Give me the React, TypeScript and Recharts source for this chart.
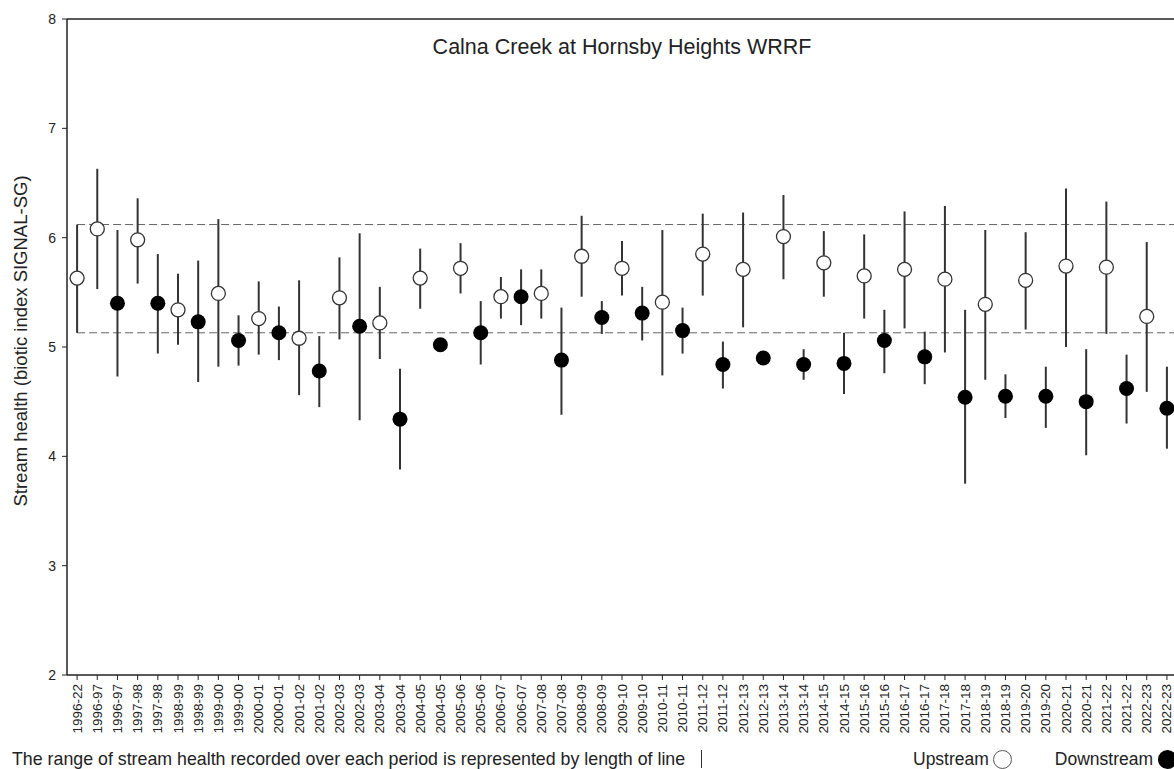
import { ScatterChart, Scatter, XAxis, YAxis, ErrorBar, ReferenceLine } from 'recharts';

// Period labels along the x axis, in drawing order
const periods = [
  '1996-22', '1996-97', '1996-97', '1997-98', '1997-98', '1998-99', '1998-99',
  '1999-00', '1999-00', '2000-01', '2000-01', '2001-02', '2001-02', '2002-03',
  '2002-03', '2003-04', '2003-04', '2004-05', '2004-05', '2005-06', '2005-06',
  '2006-07', '2006-07', '2007-08', '2007-08', '2008-09', '2008-09', '2009-10',
  '2009-10', '2010-11', '2010-11', '2011-12', '2011-12', '2012-13', '2012-13',
  '2013-14', '2013-14', '2014-15', '2014-15', '2015-16', '2015-16', '2016-17',
  '2016-17', '2017-18', '2017-18', '2018-19', '2018-19', '2019-20', '2019-20',
  '2020-21', '2020-21', '2021-22', '2021-22', '2022-23', '2022-23',
];

// Upstream: first entry is the long-term 1996-22 reference, then one per year
const upMean = [5.63, 6.08, 5.98, 5.34, 5.49, 5.26, 5.08, 5.45, 5.22, 5.63, 5.72, 5.46, 5.49, 5.83,
  5.72, 5.41, 5.85, 5.71, 6.01, 5.77, 5.65, 5.71, 5.62, 5.39, 5.61, 5.74, 5.73, 5.28];
const upMin = [5.13, 5.53, 5.58, 5.02, 4.82, 4.93, 4.56, 5.07, 4.89, 5.35, 5.49, 5.26, 5.26, 5.46,
  5.47, 4.74, 5.47, 5.18, 5.62, 5.46, 5.26, 5.17, 4.95, 4.70, 5.16, 5.00, 5.12, 4.59];
const upMax = [6.12, 6.63, 6.36, 5.67, 6.17, 5.60, 5.61, 5.82, 5.55, 5.90, 5.95, 5.64, 5.71, 6.20,
  5.97, 6.07, 6.22, 6.23, 6.39, 6.06, 6.03, 6.24, 6.29, 6.07, 6.05, 6.45, 6.33, 5.96];

// Downstream: one per year, 1996-97 .. 2022-23
const downMean = [5.40, 5.40, 5.23, 5.06, 5.13, 4.78, 5.19, 4.34, 5.02, 5.13, 5.46, 4.88, 5.27, 5.31,
  5.15, 4.84, 4.90, 4.84, 4.85, 5.06, 4.91, 4.54, 4.55, 4.55, 4.50, 4.62, 4.44];
const downMin = [4.73, 4.94, 4.68, 4.83, 4.88, 4.45, 4.33, 3.88, 4.97, 4.84, 5.20, 4.38, 5.12, 5.06,
  4.94, 4.62, 4.86, 4.70, 4.57, 4.76, 4.66, 3.75, 4.35, 4.26, 4.01, 4.30, 4.07];
const downMax = [6.07, 5.85, 5.79, 5.29, 5.37, 5.10, 6.04, 4.80, 5.05, 5.42, 5.71, 5.36, 5.42, 5.55,
  5.36, 5.05, 4.94, 4.98, 5.13, 5.34, 5.14, 5.34, 4.75, 4.82, 4.98, 4.93, 4.82];

const yTicks = [2, 3, 4, 5, 6, 7, 8];

// upstream sits at 0 then at every odd slot, downstream at every even slot after 0
const upData = upMean.map((v, i) => ({
  x: i === 0 ? 0 : 2 * i - 1,
  y: v,
  err: [v - upMin[i], upMax[i] - v],
}));
const downData = downMean.map((v, i) => ({
  x: 2 * i + 2,
  y: v,
  err: [v - downMin[i], downMax[i] - v],
}));

const font = '"Liberation Sans", Arial, sans-serif';
const lastIdx = periods.length - 1;

const OpenDot = (p: any) => <circle cx={p.cx} cy={p.cy} r={7} fill="#fff" stroke="#333" strokeWidth={1.3} />;
const FilledDot = (p: any) => <circle cx={p.cx} cy={p.cy} r={7.5} fill="#000" />;

const PeriodTick = (p: any) => (
  <text
    x={p.x}
    y={p.y}
    transform={`rotate(-90, ${p.x}, ${p.y})`}
    textAnchor="end"
    dominantBaseline="central"
    fontSize={13.5}
    fill="#222"
    fontFamily={font}
  >
    {periods[p.payload.value]}
  </text>
);

export default function App() {
  return (
    <div style={{ position: 'absolute', left: 0, top: 0, width: 1174, height: 769, overflow: 'hidden', background: '#fff', fontFamily: font, color: '#222' }}>
      <ScatterChart width={1200} height={769} margin={{ top: 19, right: 23, left: 0, bottom: 0 }}>
        <XAxis
          type="number"
          dataKey="x"
          domain={[-0.5, lastIdx + 0.5]}
          ticks={periods.map((_, i) => i)}
          interval={0}
          tick={<PeriodTick />}
          tickSize={5}
          tickMargin={4}
          height={94}
          axisLine={{ stroke: '#222', strokeWidth: 1.5 }}
          tickLine={{ stroke: '#222' }}
        />
        <YAxis
          type="number"
          dataKey="y"
          domain={[2, 8]}
          ticks={yTicks}
          width={67}
          tickSize={5}
          tickMargin={6}
          tick={{ fontSize: 14, fill: '#222', fontFamily: font }}
          axisLine={{ stroke: '#222', strokeWidth: 1.5 }}
          tickLine={{ stroke: '#222' }}
          label={{
            content: (lp: any) => {
              const vb = lp.viewBox;
              const cx = 20;
              const cy = vb.y + vb.height / 2 - 6;
              return (
                <text x={cx} y={cy} transform={`rotate(-90, ${cx}, ${cy})`} textAnchor="middle" dominantBaseline="central" fontSize={18.5} fill="#222" fontFamily={font}>
                  Stream health (biotic index SIGNAL-SG)
                </text>
              );
            },
          }}
        />
        <ReferenceLine y={8} stroke="#222" strokeWidth={1.5} />
        <ReferenceLine
          segment={[{ x: 0, y: upMax[0] }, { x: lastIdx + 0.5, y: upMax[0] }]}
          stroke="#666"
          strokeDasharray="8 4"
        />
        <ReferenceLine
          segment={[{ x: 0, y: upMin[0] }, { x: lastIdx + 0.5, y: upMin[0] }]}
          stroke="#666"
          strokeDasharray="8 4"
        />
        <Scatter data={upData} shape={OpenDot} isAnimationActive={false}>
          <ErrorBar dataKey="err" direction="y" width={0} stroke="#333" strokeWidth={2} isAnimationActive={false} />
        </Scatter>
        <Scatter data={downData} shape={FilledDot} isAnimationActive={false}>
          <ErrorBar dataKey="err" direction="y" width={0} stroke="#333" strokeWidth={2} isAnimationActive={false} />
        </Scatter>
      </ScatterChart>

      <div style={{ position: 'absolute', left: 0, width: 1244, top: 36, textAlign: 'center', fontSize: 21.5, lineHeight: '22px' }}>
        Calna Creek at Hornsby Heights WRRF
      </div>

      <div style={{ position: 'absolute', left: 12, top: 749, fontSize: 17.8, lineHeight: '20px', whiteSpace: 'nowrap', display: 'flex', alignItems: 'center' }}>
        <span>The range of stream health recorded over each period is represented by length of line</span>
        <span style={{ display: 'inline-block', width: 0, height: 18, borderLeft: '1.5px solid #333', marginLeft: 16 }} />
      </div>

      <div style={{ position: 'absolute', left: 913, top: 749, fontSize: 17.5, lineHeight: '20px', whiteSpace: 'nowrap', display: 'flex', alignItems: 'center' }}>
        <span>Upstream</span>
        <span style={{ display: 'inline-block', width: 17, height: 17, borderRadius: '50%', border: '1.3px solid #555', marginLeft: 4, background: '#fff' }} />
        <span style={{ marginLeft: 43 }}>Downstream</span>
        <span style={{ display: 'inline-block', width: 19, height: 19, borderRadius: '50%', background: '#000', marginLeft: 5 }} />
      </div>
    </div>
  );
}
